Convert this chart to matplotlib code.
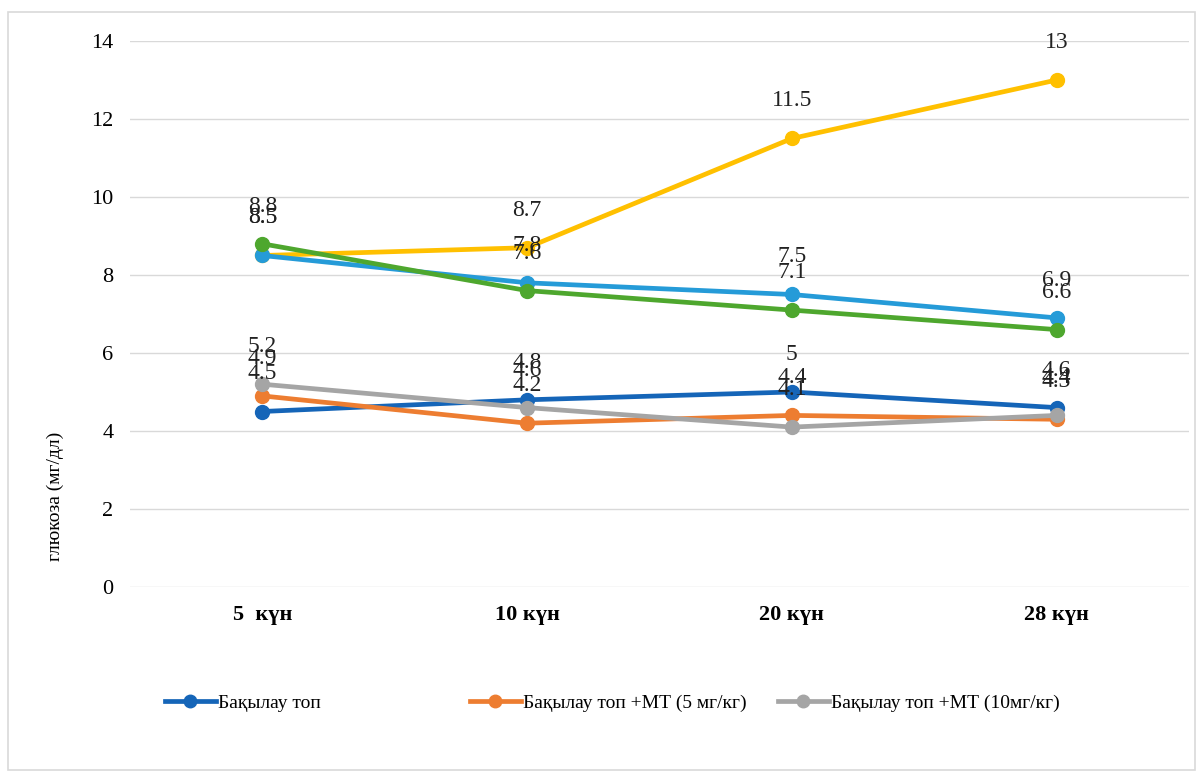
import matplotlib
matplotlib.use("Agg")
import matplotlib.pyplot as plt
from matplotlib.lines import Line2D
from matplotlib.patches import Rectangle

plt.rcParams['font.family'] = ['Liberation Serif', 'DejaVu Serif']

days = ["5  күн", "10 күн", "20 күн", "28 күн"]

control = [4.5, 4.8, 5, 4.6]
mt5 = [4.9, 4.2, 4.4, 4.3]
mt10 = [5.2, 4.6, 4.1, 4.4]
yellow_series = [8.5, 8.7, 11.5, 13]
lightblue_series = [8.5, 7.8, 7.5, 6.9]
green_series = [8.8, 7.6, 7.1, 6.6]

legend_labels = ["Бақылау топ", "Бақылау топ +МТ (5 мг/кг)", "Бақылау топ +МТ (10мг/кг)"]

series = [
    (yellow_series, "#FFC000"),
    (lightblue_series, "#259BD8"),
    (green_series, "#4EA72E"),
    (control, "#1565B8"),
    (mt5, "#ED7D31"),
    (mt10, "#A5A5A5"),
]

fig = plt.figure(figsize=(12.03, 7.76), dpi=100)
fig.patches.append(Rectangle((8 / 1203, 6 / 776), 1187 / 1203, 758 / 776,
                             transform=fig.transFigure, fill=False,
                             edgecolor="#d9d9d9", linewidth=1.2))

ax = fig.add_axes([130 / 1203, 1 - 587 / 776, 1059 / 1203, 546 / 776])
x = list(range(len(days)))

for vals, color in series:
    ax.plot(x, vals, color=color, linewidth=3.4, marker="o", markersize=10,
            solid_capstyle="round", zorder=3)

for vals, color in series:
    for xi, v in zip(x, vals):
        ax.annotate(f"{v:g}", (xi, v), xytext=(0, 27), textcoords="offset points",
                    ha="center", va="center", fontsize=17, color="#222222",
                    zorder=4)

ax.set_xlim(-0.5, 3.5)
ax.set_ylim(0, 14)
ax.set_yticks(range(0, 15, 2))
ax.set_xticks(x)
ax.set_xticklabels(days, fontsize=16, fontweight="bold")
ax.tick_params(axis="y", labelsize=16, length=0, pad=12)
ax.tick_params(axis="x", length=0, pad=13)
ax.grid(axis="y", color="#d9d9d9", linewidth=1)
ax.set_axisbelow(True)
for s in ax.spines.values():
    s.set_visible(False)

fig.text(55 / 1203, 1 - 496 / 776, "глюкоза (мг/дл)", rotation=90,
         ha="center", va="center", fontsize=14)

handles = [Line2D([0], [0], color=c, linewidth=3.4, marker="o", markersize=9)
           for c in ["#1565B8", "#ED7D31", "#A5A5A5"]]
leg_x = [165, 470, 778]
for h, lbl, lx in zip(handles, legend_labels, leg_x):
    fig.legend([h], [lbl], loc="center left",
               bbox_to_anchor=(lx / 1203, 1 - 703 / 776), frameon=False,
               fontsize=14, handlelength=2.6, handletextpad=0.15,
               borderaxespad=0, borderpad=0)

fig.savefig("out.png", dpi=100, facecolor="white")
